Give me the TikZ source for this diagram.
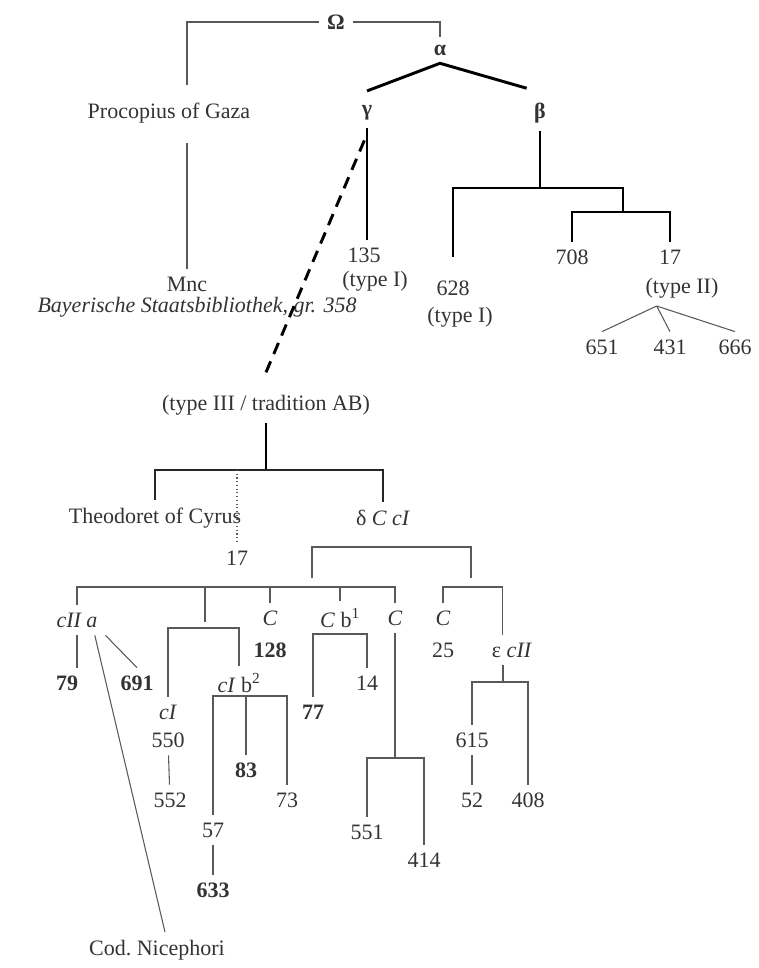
\documentclass[tikz,border=0pt]{standalone}
\usepackage{fontspec}
\setmainfont{Liberation Serif}
\definecolor{ink}{gray}{0.2}
\definecolor{rulegray}{gray}{0.35}
\tikzset{every picture/.style={line width=0.75pt}}
\tikzset{
  lbl/.style={inner sep=1pt, outer sep=5pt, text=ink, font=\fontsize{16.5}{19}\selectfont},
  thinline/.style={draw=rulegray, line width=0.8pt},
  midline/.style={draw=black!85, line width=1.4pt},
  heavyline/.style={draw=black, line width=2.2pt},
}
\begin{document}
\begin{tikzpicture}[x=0.75pt,y=0.75pt,yscale=-1,xscale=1,every node/.style={lbl}]
\useasboundingbox (0,0) rectangle (759,968);

\node (Omega) at (336,22) {\textbf{Ω}};
\node (alpha) at (440,50) {\textbf{α}};
\node (gamma) at (367,113) {\textbf{γ}};
\node (beta) at (540,113) {\textbf{β}};
\node (procop) at (169,113) {Procopius of Gaza};
\node (mnc) at (187,284) {Mnc};
\node (bsb) at (197,307) {\textit{Bayerische Staatsbibliothek, gr. 358}};
\node (n135) at (364,255) {135};
\node (t135) at (375,281) {(type I)};
\node (n628) at (453,288) {628};
\node (t628) at (460,317) {(type I)};
\node (n708) at (572,257) {708};
\node (n17a) at (670,257) {17};
\node (t17) at (682,288) {(type II)};
\node (n651) at (602,347) {651};
\node (n431) at (670,347) {431};
\node (n666) at (735,347) {666};

\node (typeIII) at (266,405) {(type III / tradition AB)};
\node (theod) at (155,518) {Theodoret of Cyrus};
\node (n17b) at (237,558) {17};
\node (delta) at (383,518) {δ \textit{C cI}};

\node (cIIa) at (77,620) {\textit{cII a}};
\node (n79) at (67,683) {\textbf{79}};
\node (n691) at (137,683) {\textbf{691}};
\node (C128) at (270,618) {\textit{C}};
\node (n128) at (270,650) {\textbf{128}};
\node (Cb1) at (340,618) {\textit{C} b\textsuperscript{1}};
\node (C551) at (395,618) {\textit{C}};
\node (C25) at (443,618) {\textit{C}};
\node (n25) at (443,650) {25};
\node (eps) at (512,650) {ε \textit{cII}};
\node (cI) at (168,712) {\textit{cI}};
\node (n550) at (168,740) {550};
\node (n552) at (170,800) {552};
\node (cIb2) at (239,683) {\textit{cI} b\textsuperscript{2}};
\node (n83) at (246,770) {\textbf{83}};
\node (n73) at (287,800) {73};
\node (n57) at (213,830) {57};
\node (n633) at (213,890) {\textbf{633}};
\node (n77) at (313,712) {\textbf{77}};
\node (n14) at (367,683) {14};
\node (n551) at (367,832) {551};
\node (n414) at (424,860) {414};
\node (n615) at (472,740) {615};
\node (n52) at (472,800) {52};
\node (n408) at (528,800) {408};
\node (nicep) at (157,950) {Cod.\ Nicephori};

\coordinate (pgtop) at (187,85);
\coordinate (bj) at (540,188);
\coordinate (bj2) at (623,212);
\coordinate (tj) at (266,470);
\coordinate (dbar) at (390,547);
\coordinate (djl) at (312,578);
\coordinate (djr) at (471,578);
\coordinate (bbar) at (312,587);
\coordinate (cj1) at (205,622);
\coordinate (cj2) at (205,628);
\coordinate (bbj) at (246,696);
\coordinate (cbbar) at (340,634);
\coordinate (cbar2) at (395,758);
\coordinate (ebar) at (470,587);
\coordinate (ej) at (503,682);

\draw [thinline] (Omega.west) -| (pgtop);
\draw [thinline] (Omega.east) -| (alpha.north);
\draw [heavyline] ([yshift=-5pt]gamma.north) -- (alpha.south) -- ([xshift=-10pt,yshift=-5pt]beta.north);
\draw [thinline] ([yshift=9pt]procop.south -| mnc) -- (mnc.north);
\draw [heavyline] (gamma.south) -- (gamma.south |- n135.north);
\draw [heavyline, dash pattern=on 9pt off 6pt] ([xshift=-2pt,yshift=9pt]gamma.south) -- ([yshift=-11pt]typeIII.north);
\draw [heavyline] (beta.south) -- (bj);
\draw [heavyline] ([yshift=-12pt]n628.north) |- (bj) -| (bj2);
\draw [heavyline] (n708.north) |- (bj2) -| (n17a.north);
\draw [thinline] ([xshift=-19pt]t17.south) -- (n651.north);
\draw [thinline] ([xshift=-19pt]t17.south) -- (n431.north);
\draw [thinline] ([xshift=-19pt]t17.south) -- (n666.north);

\draw [heavyline] (typeIII.south) -- (typeIII.south |- tj);
\draw [midline] (theod.north) |- (tj) -| (delta.north);
\draw [thinline, dotted] (tj -| n17b) -- (n17b.north);

\draw [thinline] (djl) |- (dbar) -| (djr);
\draw [thinline] (cIIa.north) |- (bbar) -| (C551.north);
\draw [thinline] (bbar -| cj1) -- (cj1);
\draw [thinline] (bbar -| C128) -- (C128.north);
\draw [thinline] (bbar -| Cb1) -- (Cb1.north);
\draw [thinline] (cIIa.south) -- (cIIa.south |- n79.north);
\draw [thinline] (cIIa.south east) -- (n691.north);
\draw [thinline] ([xshift=-8pt]cIIa.south east) -- ([xshift=6pt]nicep.north);
\draw [thinline] (cI.north) |- (cj2) -| (cIb2.north);
\draw [thinline] (n550) -- (n552);
\draw [thinline] (n57.north) |- (bbj) -| (n73.north);
\draw [thinline] (bbj) -- (n83.north);
\draw [thinline] (n57) -- (n633);
\draw [thinline] (n77.north) |- (cbbar) -| (n14.north);
\draw [thinline] (C551.south) -- (C551.south |- cbar2);
\draw [thinline] (n551.north) |- (cbar2) -| (n414.north);
\draw [thinline] (C25.north) |- (ebar) -| ([xshift=-7pt]eps.north);
\draw [thinline] (ej |- eps.south) -- (ej);
\draw [thinline] (n615.north) |- (ej) -| (n408.north);
\draw [thinline] (n615) -- (n52);

\end{tikzpicture}
\end{document}
